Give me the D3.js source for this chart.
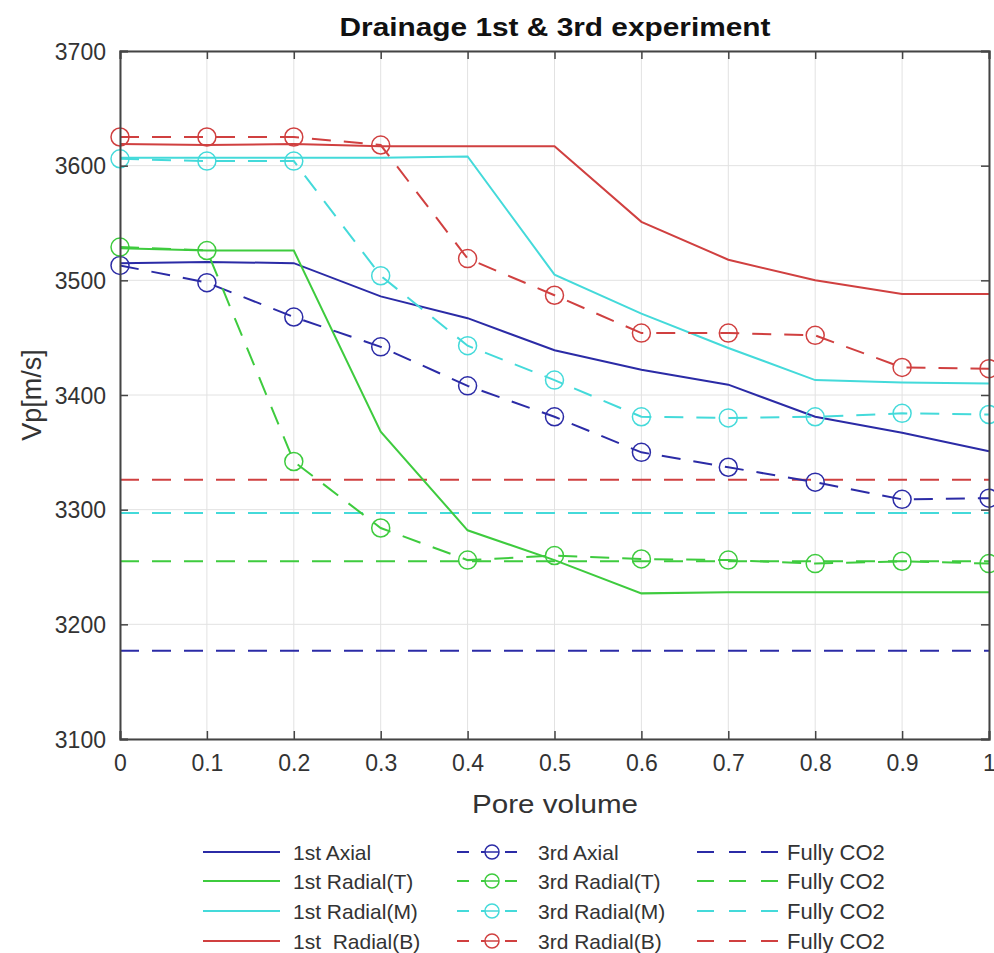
<!DOCTYPE html>
<html>
<head>
<meta charset="utf-8">
<script src="https://cdn.jsdelivr.net/npm/d3@7"></script>
<style>
  body { margin: 0; background: #fff; }
  text { font-family: "Liberation Sans", Arial, sans-serif; fill: #333; }
</style>
</head>
<body>
<div id="chart"></div>
<script>
let poreVolume = [0, 0.1, 0.2, 0.3, 0.4, 0.5, 0.6, 0.7, 0.8, 0.9, 1]
let xTicks = [0, 0.1, 0.2, 0.3, 0.4, 0.5, 0.6, 0.7, 0.8, 0.9, 1]
let yTicks = [3100, 3200, 3300, 3400, 3500, 3600, 3700]

let first_axial = [3515, 3516, 3515, 3486, 3467, 3439, 3422, 3409, 3381, 3367, 3351]
let first_radialT = [3528, 3526, 3526, 3368, 3282, 3256, 3227, 3228, 3228, 3228, 3228]
let first_radialM = [3607, 3607, 3607, 3607, 3608, 3505, 3471, 3441, 3413, 3411, 3410]
let first_radialB = [3619, 3618, 3619, 3617, 3617, 3617, 3551, 3518, 3500, 3488, 3488]

let third_axial = [3513, 3498, 3468, 3442, 3408, 3381, 3350, 3337, 3324, 3309, 3310]
let third_radialT = [3529, 3526, 3342, 3284, 3256, 3260, 3257, 3256, 3253, 3255, 3253]
let third_radialM = [3606, 3604, 3604, 3504, 3443, 3413, 3381, 3380, 3381, 3384, 3383]
let third_radialB = [3625, 3625, 3625, 3618, 3519, 3487, 3454, 3454, 3452, 3424, 3423]

let fullyCO2 = [3177, 3255, 3297, 3326] // axial, T, M, B

let colors = ['#2b2ba6', '#3ecb3e', '#44dada', '#d04040']
let firstLabels = ['1st Axial', '1st Radial(T)', '1st Radial(M)', '1st  Radial(B)']
let thirdLabels = ['3rd Axial', '3rd Radial(T)', '3rd Radial(M)', '3rd Radial(B)']
let co2Labels = ['Fully CO2', 'Fully CO2', 'Fully CO2', 'Fully CO2']

let firstSeries = [first_axial, first_radialT, first_radialM, first_radialB]
let thirdSeries = [third_axial, third_radialT, third_radialM, third_radialB]

let width = 994
let height = 953
let plot = { left: 120, right: 989, top: 51, bottom: 739 }

let svg = d3.select('#chart')
  .append('svg')
  .attr('width', width)
  .attr('height', height)

let x = d3.scaleLinear()
  .domain([0, 1])
  .range([plot.left, plot.right])

let y = d3.scaleLinear()
  .domain([3100, 3700])
  .range([plot.bottom, plot.top])

// grid
let grid = svg.append('g')
grid.selectAll('.gx')
  .data(xTicks)
  .join('line')
  .attr('x1', d => x(d)).attr('x2', d => x(d))
  .attr('y1', plot.top).attr('y2', plot.bottom)
  .attr('stroke', '#e2e2e2').attr('stroke-width', 1)
grid.selectAll('.gy')
  .data(yTicks)
  .join('line')
  .attr('class', 'gy')
  .attr('x1', plot.left).attr('x2', plot.right)
  .attr('y1', d => y(d)).attr('y2', d => y(d))
  .attr('stroke', '#e2e2e2').attr('stroke-width', 1)

let line = d3.line()
  .x((d, i) => x(poreVolume[i]))
  .y(d => y(d))

// fully CO2 reference lines
svg.append('g')
  .selectAll('line')
  .data(fullyCO2)
  .join('line')
  .attr('x1', plot.left).attr('x2', plot.right)
  .attr('y1', d => y(d)).attr('y2', d => y(d))
  .attr('stroke', (d, i) => colors[i])
  .attr('stroke-width', 2)
  .attr('stroke-dasharray', '19,13')

// 1st experiment
svg.append('g')
  .selectAll('path')
  .data(firstSeries)
  .join('path')
  .attr('d', line)
  .attr('fill', 'none')
  .attr('stroke', (d, i) => colors[i])
  .attr('stroke-width', 2)

// 3rd experiment
let third = svg.append('g')
  .selectAll('g')
  .data(thirdSeries)
  .join('g')
  .attr('stroke', (d, i) => colors[i])

third.append('path')
  .attr('d', line)
  .attr('fill', 'none')
  .attr('stroke-width', 2)
  .attr('stroke-dasharray', '19,13')

third.selectAll('circle')
  .data(d => d)
  .join('circle')
  .attr('cx', (d, i) => x(poreVolume[i]))
  .attr('cy', d => y(d))
  .attr('r', 9)
  .attr('fill', 'none')
  .attr('stroke-width', 1.5)

// axes box with inward ticks
let axisColor = '#444'
let xAxis = svg.append('g')
  .attr('transform', `translate(0,${plot.bottom})`)
  .call(d3.axisBottom(x).tickValues(xTicks).tickSize(-8).tickPadding(16)
    .tickFormat(d => d3.format('')(+d.toFixed(1))))
let xTop = svg.append('g')
  .attr('transform', `translate(0,${plot.top})`)
  .call(d3.axisTop(x).tickValues(xTicks).tickSize(-8).tickFormat(''))
let yAxis = svg.append('g')
  .attr('transform', `translate(${plot.left},0)`)
  .call(d3.axisLeft(y).tickValues(yTicks).tickSize(-8).tickPadding(14)
    .tickFormat(d3.format('d')))
let yRight = svg.append('g')
  .attr('transform', `translate(${plot.right},0)`)
  .call(d3.axisRight(y).tickValues(yTicks).tickSize(-8).tickFormat(''))

;[xAxis, xTop, yAxis, yRight].forEach(a => {
  a.select('.domain').attr('stroke', axisColor).attr('stroke-width', 2)
  a.selectAll('.tick line').attr('stroke', axisColor).attr('stroke-width', 1.5)
  a.selectAll('.tick text')
    .style('font-family', '"Liberation Sans", Arial, sans-serif')
    .style('font-size', '23px')
    .attr('fill', '#333')
})
yAxis.selectAll('.tick text').attr('dy', '0.36em')

// title and labels
svg.append('text')
  .attr('x', 555).attr('y', 36)
  .attr('text-anchor', 'middle')
  .attr('textLength', 431)
  .attr('lengthAdjust', 'spacingAndGlyphs')
  .style('font-size', '25px')
  .style('font-weight', 'bold')
  .style('fill', '#111')
  .text('Drainage 1st & 3rd experiment')

svg.append('text')
  .attr('x', 555).attr('y', 813)
  .attr('text-anchor', 'middle')
  .attr('textLength', 166)
  .attr('lengthAdjust', 'spacingAndGlyphs')
  .style('font-size', '25px')
  .text('Pore volume')

svg.append('text')
  .attr('transform', `translate(41,${(plot.top + plot.bottom) / 2}) rotate(-90)`)
  .attr('text-anchor', 'middle')
  .style('font-size', '27px')
  .text('Vp[m/s]')

// legend
let legend = svg.append('g')
let rowY = [852, 881, 911, 941]

let rows = legend.selectAll('g')
  .data(colors)
  .join('g')
  .attr('transform', (d, i) => `translate(0,${rowY[i]})`)

rows.append('line')
  .attr('x1', 203).attr('x2', 280)
  .attr('stroke', d => d).attr('stroke-width', 2)
rows.append('text')
  .attr('x', 293).attr('dy', '0.36em')
  .style('font-size', '21px')
  .style('white-space', 'pre')
  .text((d, i) => firstLabels[i])

rows.append('line')
  .attr('x1', 455).attr('x2', 528)
  .attr('stroke', d => d).attr('stroke-width', 2)
  .attr('stroke-dasharray', '12,12')
  .attr('stroke-dashoffset', -2)
rows.append('circle')
  .attr('cx', 492).attr('r', 7)
  .attr('fill', '#fff')
  .attr('stroke', d => d).attr('stroke-width', 1.5)
rows.append('line')
  .attr('x1', 485).attr('x2', 499)
  .attr('stroke', d => d).attr('stroke-width', 1.5)
rows.append('text')
  .attr('x', 538).attr('dy', '0.36em')
  .style('font-size', '21px')
  .text((d, i) => thirdLabels[i])

rows.append('line')
  .attr('x1', 697).attr('x2', 778)
  .attr('stroke', d => d).attr('stroke-width', 2)
  .attr('stroke-dasharray', '17,15')
rows.append('text')
  .attr('x', 787).attr('dy', '0.36em')
  .style('font-size', '22px')
  .text((d, i) => co2Labels[i])
</script>
</body>
</html>
